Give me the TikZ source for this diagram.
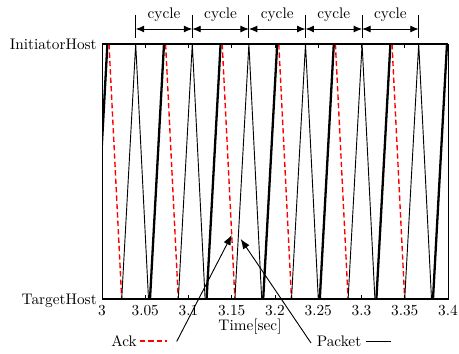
\documentclass[tikz,border=0pt]{standalone}
\usepackage{xcolor}
\usepackage{tikz}
\usetikzlibrary{arrows.meta,positioning,calc}
\definecolor{ackred}{HTML}{FF0000}

\tikzset{
    pktline/.style={black, line width=1.5pt},
    thinline/.style={black, line width=0.6pt},
    ackline/.style={ackred, line width=0.9pt, dash pattern=on 3.5pt off 2pt},
    hostlabel/.style={inner sep=0pt, anchor=base east},
    ticklabel/.style={inner sep=0pt, anchor=north},
    callout/.style={-{Latex[length=6.5pt,width=5pt]}, line width=0.6pt},
    cyclearrow/.style={{Latex[length=5.5pt,width=4.5pt]}-{Latex[length=5.5pt,width=4.5pt]}, line width=0.6pt}
}

\begin{document}
\begin{tikzpicture}[x=0.653pt, y=-0.653pt]
    \useasboundingbox (0,0) rectangle (459,354);

    % traces, clipped to the plot area
    \begin{scope}
        \clip (102,44) rectangle (448,299);
        \foreach \k in {-1,...,6} {
            \pgfmathsetmacro{\p}{135.7+56.6*\k}
            \draw[ackline] (\p-26.7,44) -- (\p-14,299);
            \draw[thinline] (\p-14,299) -- (\p,44) -- (\p+12.8,299);
            \draw[pktline] (\p+14.3,299) -- (\p+28.3,44);
        }
    \end{scope}

    % frame and host lines
    \draw[line width=0.6pt] (102,44) rectangle (448,299);
    \draw[line width=1.1pt] (102,44) -- (448,44);
    \draw[line width=1.1pt] (102,299) -- (448,299);
    \node[hostlabel] (init) at (97,49) {InitiatorHost};
    \node[hostlabel] (targ) at (97,304) {TargetHost};

    % ticks and tick labels
    \foreach \t/\lab in {0/3, 1/3.05, 2/3.1, 3/3.15, 4/3.2, 5/3.25, 6/3.3, 7/3.35, 8/3.4} {
        \draw[line width=0.4pt] (102+43.25*\t,44) -- (102+43.25*\t,48);
        \draw[line width=0.4pt] (102+43.25*\t,299) -- (102+43.25*\t,295);
        \node[ticklabel] (tick\t) at (102+43.25*\t,305) {\lab};
    }
    \node (xlabel) at (250,327) {Time[sec]};

    % cycle marks
    \foreach \i in {0,...,5} {
        \draw[line width=0.6pt] (135.7+56.6*\i,15) -- (135.7+56.6*\i,38);
        \coordinate (cyc\i) at (135.7+56.6*\i,29);
    }
    \foreach \i [evaluate=\i as \j using int(\i+1)] in {0,...,4} {
        \draw[cyclearrow] (cyc\i) -- (cyc\j);
        \node[inner sep=0pt, anchor=base] (cyclab\i) at ($(cyc\i)!0.5!(cyc\j)+(0,-10.5)$) {cycle};
    }

    % legend
    \node[inner sep=0pt, anchor=base west] (acklab) at (111,346) {Ack};
    \coordinate (ackA) at (140,341);
    \coordinate (ackB) at (167,341);
    \draw[ackline] (ackA) -- (ackB);
    \node[inner sep=0pt, anchor=base west] (pktlab) at (316.5,346) {Packet};
    \coordinate (pktA) at (366,341);
    \coordinate (pktB) at (391,341);
    \draw[line width=0.6pt] (pktA) -- (pktB);

    % callouts
    \coordinate (ackfrom) at (176.7,341.5);
    \coordinate (acktip) at (231.7,235);
    \coordinate (pktfrom) at (311,343);
    \coordinate (pkttip) at (240.7,239);
    \draw[callout] (ackfrom) -- (acktip);
    \draw[callout] (pktfrom) -- (pkttip);
\end{tikzpicture}
\end{document}
